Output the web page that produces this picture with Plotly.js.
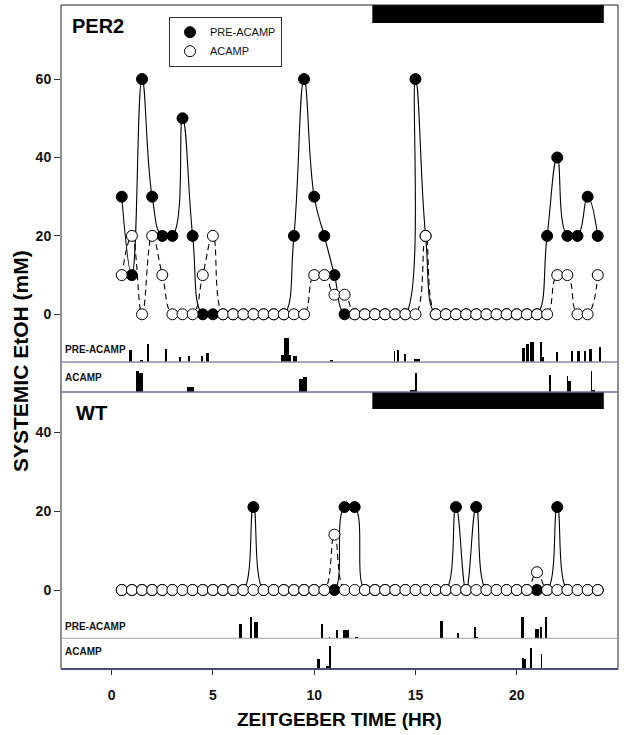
<!DOCTYPE html>
<html><head><meta charset="utf-8">
<script src="https://cdn.plot.ly/plotly-3.0.1.min.js"></script>
<style>html,body{margin:0;padding:0;background:#fff}#chart{width:624px;height:735px}</style>
</head><body><div id="chart"></div>
<script>
// ---------- DATA ----------
const hours = [0.5,1,1.5,2,2.5,3,3.5,4,4.5,5,5.5,6,6.5,7,7.5,8,8.5,9,9.5,10,10.5,11,11.5,12,12.5,13,13.5,14,14.5,15,15.5,16,16.5,17,17.5,18,18.5,19,19.5,20,20.5,21,21.5,22,22.5,23,23.5,24];
const per2Pre   = [30,10,60,30,20,20,50,20,0,0, 0,0,0,0,0,0,0,20,60,30, 20,10,0,0,0,0,0,0,0,60, 20,0,0,0,0,0,0,0,0,0, 0,0,20,40,20,20,30,20];
const per2Acamp = [10,20,0,20,10,0,0,0,10,20, 0,0,0,0,0,0,0,0,0,10, 10,5,5,0,0,0,0,0,0,0, 20,0,0,0,0,0,0,0,0,0, 0,0,0,10,10,0,0,10];
const wtPre     = [0,0,0,0,0,0,0,0,0,0, 0,0,0,21,0,0,0,0,0,0, 0,0,21,21,0,0,0,0,0,0, 0,0,0,21,0,21,0,0,0,0, 0,0,0,21,0,0,0,0];
const wtAcamp   = [0,0,0,0,0,0,0,0,0,0, 0,0,0,0,0,0,0,0,0,0, 0,14,0,0,0,0,0,0,0,0, 0,0,0,0,0,0,0,0,0,0, 0,4.5,0,0,0,0,0,0];
const xTicks = [0,5,10,15,20];
const per2Ticks = [0,20,40,60];
const wtTicks = [0,20,40];
const darkPhase = [12.87, 24.3];
// activity bouts: [start hr, end hr, counts]
const per2PreBouts = [[0.84,1.0,12],[1.4,1.56,2],[1.74,1.84,18],[2.63,2.74,13],[3.35,3.43,5],[3.76,3.89,6],[4.43,4.52,6],[4.66,4.83,9],
  [8.34,8.51,7],[8.51,8.75,24],[8.75,8.85,7],[8.95,9.15,6],[10.79,10.92,2],[13.94,14.0,11],[14.1,14.19,12],[14.43,14.53,8],[14.95,15.2,3],
  [20.25,20.39,14],[20.46,20.6,18],[20.67,20.84,20],[21.13,21.23,20],[21.23,21.36,5],[21.94,22.03,10],[22.69,22.77,11],[23.0,23.1,11],[23.3,23.4,11],[23.56,23.73,13],[24.04,24.14,15]];
const per2AcampBouts = [[1.2,1.33,21],[1.33,1.56,19],[3.71,4.05,5],[9.23,9.46,13],[9.46,9.64,15],[14.75,14.98,2],[14.98,15.09,19],
  [21.59,21.69,17],[22.46,22.54,16],[22.54,22.68,11],[23.66,23.74,21],[23.74,23.86,2]];
const wtPreBouts = [[6.31,6.44,14],[6.85,6.93,21],[7.04,7.21,16],[10.34,10.43,14],[10.72,10.79,1],[11.08,11.2,8],[11.44,11.72,8],[12.02,12.18,1],
  [16.22,16.34,17],[17.03,17.13,5],[17.87,17.97,11],[17.97,18.1,1],[20.2,20.34,21],[20.9,21.1,9],[21.13,21.23,11],[21.4,21.5,21]];
const wtAcampBouts = [[10.16,10.3,10],[10.6,10.74,3],[10.74,10.84,23],[20.28,20.36,11],[20.36,20.48,10],[20.66,20.74,21],[21.18,21.27,15]];

// ---------- HELPERS ----------
const F = 'Liberation Sans, Arial, sans-serif';
const PH = 664, PB = 669; // plot height, bottom pixel
const py = px => (PB - px) / PH;

function lineTrace(y, ya, dash) {
  return {x: hours, y: y, yaxis: ya, mode: 'lines', showlegend: false, hoverinfo: 'skip',
    line: {color: '#000', width: 1.1, shape: 'spline', smoothing: 1.3, dash: dash}};
}
function markTrace(y, ya, filled, name, leg) {
  return {x: hours, y: y, yaxis: ya, mode: 'markers', name: name, showlegend: leg,
    marker: {size: 11, color: filled ? '#000' : '#fff', line: {color: '#000', width: 1}}};
}
function boutTrace(b, ya) {
  return {type: 'bar', yaxis: ya, x: b.map(d => (d[0] + d[1]) / 2), width: b.map(d => d[1] - d[0]),
    y: b.map(d => d[2]), marker: {color: '#000', line: {width: 0}}, showlegend: false, hoverinfo: 'skip'};
}

const data = [
  lineTrace(per2Pre, 'y', 'solid'),
  lineTrace(per2Acamp, 'y', '6px,4px'),
  lineTrace(wtPre, 'y4', 'solid'),
  lineTrace(wtAcamp, 'y4', '6px,4px'),
  markTrace(per2Pre, 'y', true, 'PRE-ACAMP', true),
  markTrace(per2Acamp, 'y', false, 'ACAMP', true),
  markTrace(wtPre, 'y4', true, 'PRE-ACAMP', false),
  markTrace(wtAcamp, 'y4', false, 'ACAMP', false),
  boutTrace(per2PreBouts, 'y2'),
  boutTrace(per2AcampBouts, 'y3'),
  boutTrace(wtPreBouts, 'y5'),
  boutTrace(wtAcampBouts, 'y6')
];

const tickFont = {family: F, size: 14, weight: 'bold', color: '#111'};
const yMain = (dom, rng, tv) => ({domain: dom, range: rng, tickvals: tv, ticks: 'outside', ticklen: 6, tickwidth: 1,
  tickcolor: '#333', showgrid: false, zeroline: false, showline: false, anchor: 'x', tickfont: tickFont, fixedrange: true});
const yRow = (dom, rng) => ({domain: dom, range: rng, visible: false, anchor: 'x', fixedrange: true});

const layout = {
  width: 624, height: 735,
  margin: {l: 61, r: 6, t: 5, b: 66},
  paper_bgcolor: '#fff', plot_bgcolor: 'rgba(0,0,0,0)',
  barmode: 'overlay', bargap: 0,
  xaxis: {domain: [0, 1], range: [-2.5, 25], anchor: 'y6', tickvals: xTicks, ticks: 'outside', ticklen: 5, tickwidth: 1,
    tickcolor: '#333', showgrid: false, zeroline: false, showline: false, tickfont: tickFont, ticklabelstandoff: 8, fixedrange: true},
  yaxis: yMain([py(362), 1], [-12.17, 78.9], per2Ticks),
  yaxis2: yRow([py(362), py(332)], [0, 30]),
  yaxis3: yRow([py(392), py(362)], [0, 30]),
  yaxis4: yMain([py(638.3), py(392)], [-12.23, 50.13], wtTicks),
  yaxis5: yRow([py(638.3), py(608)], [0, 30.3]),
  yaxis6: yRow([0, py(638.3)], [0, 30.7]),
  showlegend: true,
  legend: {x: (169 - 61) / 557, y: py(16.7), xanchor: 'left', yanchor: 'top', bgcolor: '#fff',
    bordercolor: '#333', borderwidth: 1, font: {family: F, size: 11, color: '#111'}},
  shapes: [
    {type: 'rect', xref: 'x', yref: 'paper', x0: darkPhase[0], x1: darkPhase[1], y0: py(23), y1: py(5), fillcolor: '#000', line: {width: 0}},
    {type: 'rect', xref: 'x', yref: 'paper', x0: darkPhase[0], x1: darkPhase[1], y0: py(409), y1: py(392), fillcolor: '#000', line: {width: 0}},
    {type: 'rect', xref: 'paper', yref: 'paper', x0: 0, x1: 1, y0: 0, y1: 1, line: {color: '#222', width: 1}},
    {type: 'line', xref: 'paper', yref: 'paper', x0: 0, x1: 1, y0: py(362), y1: py(362), line: {color: '#8a8ab0', width: 1.5}},
    {type: 'line', xref: 'paper', yref: 'paper', x0: 0, x1: 1, y0: py(392), y1: py(392), line: {color: '#6a6a96', width: 1.5}},
    {type: 'line', xref: 'paper', yref: 'paper', x0: 0, x1: 1, y0: py(638.3), y1: py(638.3), line: {color: '#a0a0a0', width: 1}},
    {type: 'line', xref: 'paper', yref: 'paper', x0: 0, x1: 1, y0: 0, y1: 0, line: {color: '#4b4b80', width: 2}}
  ],
  annotations: [
    {text: 'PER2', xref: 'paper', yref: 'paper', x: (70 - 61) / 557, y: py(25.5), xanchor: 'left', yanchor: 'middle', showarrow: false,
      font: {family: F, size: 20, weight: 'bold', color: '#000'}},
    {text: 'WT', xref: 'paper', yref: 'paper', x: (74 - 61) / 557, y: py(412.5), xanchor: 'left', yanchor: 'middle', showarrow: false,
      font: {family: F, size: 20, weight: 'bold', color: '#000'}},
    {text: 'PRE-ACAMP', xref: 'paper', yref: 'paper', x: 2 / 557, y: py(349.5), xanchor: 'left', yanchor: 'middle', showarrow: false,
      font: {family: F, size: 10, weight: 'bold', color: '#111'}},
    {text: 'ACAMP', xref: 'paper', yref: 'paper', x: 2 / 557, y: py(377), xanchor: 'left', yanchor: 'middle', showarrow: false,
      font: {family: F, size: 10, weight: 'bold', color: '#111'}},
    {text: 'PRE-ACAMP', xref: 'paper', yref: 'paper', x: 2 / 557, y: py(626.7), xanchor: 'left', yanchor: 'middle', showarrow: false,
      font: {family: F, size: 10, weight: 'bold', color: '#111'}},
    {text: 'ACAMP', xref: 'paper', yref: 'paper', x: 2 / 557, y: py(651), xanchor: 'left', yanchor: 'middle', showarrow: false,
      font: {family: F, size: 10, weight: 'bold', color: '#111'}},
    {text: 'SYSTEMIC EtOH (mM)', xref: 'paper', yref: 'paper', x: (20 - 61) / 557, y: py(361), xanchor: 'center', yanchor: 'middle',
      textangle: -90, showarrow: false, font: {family: F, size: 21, weight: 'bold', color: '#000'}},
    {text: 'ZEITGEBER TIME (HR)', xref: 'paper', yref: 'paper', x: (339 - 61) / 557, y: py(719), xanchor: 'center', yanchor: 'middle',
      showarrow: false, font: {family: F, size: 19, weight: 'bold', color: '#000'}}
  ]
};

Plotly.newPlot('chart', data, layout, {staticPlot: true, displayModeBar: false});
</script>
</body></html>
